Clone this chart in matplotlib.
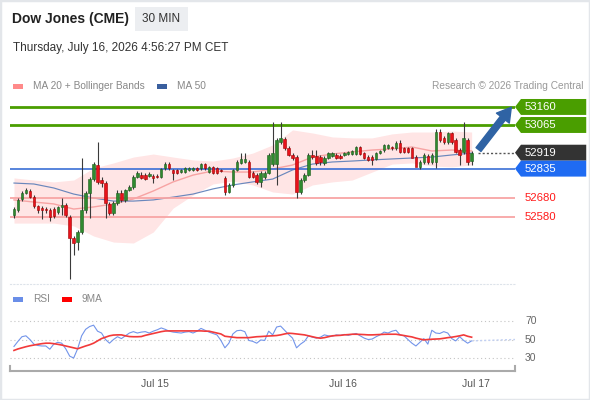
import matplotlib
matplotlib.use('Agg')
import matplotlib.pyplot as plt
from matplotlib.patches import Rectangle, Polygon

plt.rcParams['font.family'] = ['Liberation Sans', 'DejaVu Sans']

# ---- data ----
opens = [52590, 52617, 52675, 52707, 52717, 52685, 52638, 52628, 52622, 52617,
         52622, 52605, 52633, 52643, 52580, 52470, 52448, 52500, 52617, 52707,
         52780, 52855, 52775, 52760, 52650, 52600, 52655, 52707, 52670, 52722,
         52738, 52790, 52802, 52802, 52797, 52797, 52797, 52790, 52838, 52860,
         52828, 52828, 52817, 52817, 52828, 52828, 52838, 52838, 52860, 52817,
         52844, 52838, 52828, 52785, 52712, 52749, 52828, 52865, 52870, 52870,
         52812, 52800, 52765, 52790, 52812, 52860, 52860, 52975, 52990, 52945,
         52907, 52896, 52712, 52775, 52801, 52907, 52902, 52896, 52865, 52891,
         52902, 52907, 52902, 52907, 52912, 52912, 52912, 52949, 52918, 52896,
         52896, 52886, 52918, 52933, 52944, 52950, 52944, 52970, 52944, 52944,
         52944, 52896, 52844, 52870, 52902, 52870, 52870, 53028, 52996, 52975,
         53023, 52986, 52933, 52923, 52986, 52875]
closes = [52622, 52670, 52707, 52722, 52685, 52638, 52617, 52617, 52617, 52580,
          52585, 52633, 52643, 52590, 52470, 52443, 52500, 52617, 52707, 52780,
          52860, 52765, 52760, 52655, 52600, 52655, 52707, 52670, 52722, 52738,
          52790, 52812, 52785, 52780, 52807, 52786, 52790, 52833, 52860, 52838,
          52812, 52812, 52828, 52838, 52838, 52838, 52828, 52860, 52838, 52844,
          52812, 52812, 52822, 52712, 52749, 52828, 52870, 52886, 52886, 52790,
          52790, 52765, 52812, 52812, 52907, 52918, 52986, 52996, 52945, 52907,
          52890, 52712, 52775, 52801, 52907, 52896, 52865, 52870, 52891, 52918,
          52918, 52891, 52891, 52918, 52923, 52928, 52949, 52912, 52891, 52881,
          52881, 52918, 52928, 52960, 52960, 52944, 52970, 52923, 52923, 52923,
          52891, 52844, 52870, 52907, 52870, 52907, 53028, 52986, 52975, 53023,
          52975, 52923, 52907, 52996, 52870, 52919]
highs = [52633, 52680, 52715, 52735, 52730, 52695, 52645, 52640, 52635, 52628,
         52635, 52640, 52680, 52655, 52590, 52480, 52510, 52890, 52715, 52790,
         52870, 52975, 52790, 52770, 52660, 52665, 52720, 52720, 52730, 52750,
         52800, 52820, 52815, 52810, 52815, 52805, 52805, 52840, 52870, 52870,
         52835, 52835, 52835, 52845, 52845, 52845, 52845, 52866, 52866, 52850,
         52850, 52845, 52835, 52795, 52760, 52835, 52880, 52915, 52915, 52880,
         52820, 52810, 52820, 52820, 52915, 53080, 52995, 53080, 53000, 52955,
         52915, 52905, 52785, 52810, 52915, 52935, 52935, 52905, 52900, 52925,
         52925, 52915, 52910, 52925, 52930, 52935, 52955, 52955, 52925, 52905,
         52905, 52925, 52935, 52965, 52965, 52955, 52980, 52985, 52950, 52950,
         52950, 52905, 52880, 52915, 52910, 52915, 53045, 53045, 53005, 53030,
         53030, 52995, 52945, 53080, 52995, 52930]
lows = [52575, 52605, 52665, 52700, 52680, 52625, 52600, 52570, 52600, 52560,
        52575, 52595, 52590, 52580, 52253, 52380, 52405, 52490, 52600, 52575,
        52770, 52755, 52740, 52575, 52590, 52590, 52645, 52660, 52660, 52715,
        52730, 52785, 52780, 52775, 52790, 52760, 52785, 52785, 52830, 52830,
        52775, 52805, 52810, 52810, 52822, 52822, 52820, 52830, 52830, 52810,
        52805, 52805, 52815, 52695, 52705, 52740, 52820, 52860, 52865, 52785,
        52785, 52755, 52740, 52780, 52805, 52850, 52750, 52965, 52935, 52900,
        52880, 52680, 52700, 52765, 52795, 52885, 52855, 52855, 52855, 52885,
        52895, 52885, 52885, 52900, 52905, 52905, 52905, 52905, 52885, 52875,
        52854, 52880, 52910, 52925, 52940, 52935, 52935, 52915, 52915, 52915,
        52915, 52885, 52835, 52860, 52860, 52860, 52840, 52975, 52965, 52965,
        52965, 52915, 52854, 52910, 52854, 52854]

# indicators sampled every 5th bar
ind_idx = list(range(0, 116, 5))
bb_upper = [52786, 52775, 52765, 52775, 52838, 52865, 52896, 52912, 52896, 52881,
            52875, 52891, 52917, 52960, 53039, 53023, 53002, 52997, 52997, 53018,
            53028, 53028, 53033, 53028]
bb_lower = [52548, 52548, 52548, 52533, 52480, 52448, 52443, 52501, 52627, 52696,
            52754, 52770, 52749, 52712, 52701, 52749, 52765, 52775, 52817, 52859,
            52865, 52849, 52844, 52854]
ma20 = [52670, 52659, 52649, 52622, 52633, 52649, 52675, 52717, 52765, 52801,
        52823, 52817, 52817, 52833, 52854, 52896, 52912, 52923, 52933, 52939,
        52949, 52928, 52933, 52928]
ma50 = [52759, 52754, 52733, 52701, 52680, 52664, 52664, 52670, 52685, 52701,
        52728, 52749, 52765, 52780, 52828, 52859, 52870, 52875, 52881, 52886,
        52891, 52896, 52907, 52917]

rsi = [42.5, 48, 53, 54, 50, 45, 43.5, 43, 43, 39.5,
       45, 47, 46, 40, 32, 30, 40, 54, 61, 64,
       65.5, 59, 57, 50, 46, 50, 53, 51, 54, 57,
       58.5, 57, 58, 58.5, 57, 59, 60.5, 62.5, 61, 59,
       58, 57.5, 57, 58, 58.5, 57, 59, 62, 60, 58,
       56.5, 55, 49, 41, 46, 56, 59.5, 60, 58.5, 49,
       48, 46, 49.5, 49, 59, 55, 63.5, 64.5, 60, 55.5,
       51.5, 41, 45, 48, 54, 52.5, 51.5, 52.5, 55, 54,
       53.5, 55, 54.5, 55.5, 54.5, 55.5, 56.5, 54, 51.5, 50,
       50.5, 53, 55, 58, 57, 59, 60, 55, 54, 50,
       46, 43, 47, 51, 45, 60, 57, 56.5, 58.5, 57,
       51, 48.5, 53, 49, 46, 48.5]
rsi_ma9 = [38.2, 39.8, 41, 42.2, 43.2, 44, 44.8, 45.5, 46, 46,
           45.5, 44.8, 44, 43, 42, 41, 40, 41.5, 43, 44.3,
           46, 48.5, 51, 52.5, 54, 54.8, 55, 55, 54, 53.2,
           53, 53, 53.2, 54.5, 55.5, 56.5, 57.5, 58.5, 59.2, 59.3,
           59.3, 59.3, 59.3, 59.3, 59.3, 59.3, 59.3, 59.3, 59, 59,
           58, 57, 56, 53.5, 53, 52.5, 52, 52, 52, 52,
           52.5, 53, 53.2, 53.5, 53.8, 54, 54.3, 55, 56, 56.8,
           56.5, 56, 55.5, 55, 54, 53, 52, 51.4, 52, 53,
           54, 54.3, 54.5, 55, 55.3, 55.7, 55.7, 55.5, 55.3, 55,
           55, 55.2, 55.4, 55.6, 55.7, 55.7, 55.7, 55, 54.3, 53.5,
           52.8, 51.5, 50.5, 49.6, 50, 50.3, 50.5, 50.7, 51.3, 52,
           52.5, 53.2, 54, 55, 53.5, 52.5]

resistances = [53160, 53065]
pivot = 52835
last_price = 52919
supports = [52680, 52580]
date_pos = [35.4, 82.7, 116.1]
date_labels = ['Jul 15', 'Jul 16', 'Jul 17']

# ---- figure ----
W, H = 590, 400
fig = plt.figure(figsize=(5.9, 4.0), dpi=100)


def fx(x):
    return x / W


def fy(y):
    return 1 - y / H


fig.patches.append(Rectangle((0, 0), 1, 1, transform=fig.transFigure, fill=False,
                             edgecolor='#e3e6ea', lw=2.5))

# header
fig.text(fx(12), fy(19), 'Dow Jones (CME)', fontsize=10, weight='bold', color='#222', va='center')
fig.patches.append(Rectangle((fx(135), fy(31)), fx(53), 24 / H, transform=fig.transFigure,
                             facecolor='#eceef1', edgecolor='none'))
fig.text(fx(161.5), fy(19), '30 MIN', fontsize=8.5, color='#333', va='center', ha='center')
fig.text(fx(13), fy(48), 'Thursday, July 16, 2026 4:56:27 PM CET', fontsize=8.5, color='#333', va='center')

# legends
def legend_item(x, y, color, label):
    fig.patches.append(Rectangle((fx(x), fy(y + 2.5)), fx(10), 5 / H, transform=fig.transFigure,
                                 facecolor=color, edgecolor='none'))
    fig.text(fx(x + 20), fy(y), label, fontsize=7.3, color='#888', va='center')


legend_item(13, 86, '#ff8a8a', 'MA 20 + Bollinger Bands')
legend_item(157, 86, '#3a5f9e', 'MA 50')
fig.text(fx(583), fy(86), 'Research \u00a9 2026 Trading Central', fontsize=7.3, color='#999',
         va='center', ha='right')
legend_item(13, 299, '#6a8ee8', 'RSI')
legend_item(62, 299, '#ff0000', '9MA')

# ---- price pane ----
ax = fig.add_axes([fx(10), fy(284), fx(505), (284 - 95) / H])
ax.set_xlim(-1, 125.9)
ax.set_ylim(52227, 53223)
for s in ['top', 'left', 'right']:
    ax.spines[s].set_visible(False)
ax.spines['bottom'].set_color('#dde3ea')
ax.spines['bottom'].set_linestyle((0, (1, 2)))
ax.set_xticks([])
ax.set_yticks([])

ax.fill_between(ind_idx, bb_lower, bb_upper, color='#ffe5e5', lw=0, zorder=1)
ax.plot(ind_idx, ma20, color='#f7a3a3', lw=1, zorder=2)
ax.plot(ind_idx, ma50, color='#5a7db8', lw=0.85, alpha=0.9, zorder=2)

for p in resistances:
    ax.axhline(p, color='#4a9e00', lw=2, zorder=3)
ax.axhline(pivot, color='#3b6fd6', lw=1.2, zorder=3)
for p in supports:
    ax.axhline(p, color='#f8a5a5', lw=1.3, zorder=3)

idx = list(range(len(opens)))
ax.vlines(idx, lows, highs, color='#3a3a3a', lw=0.8, zorder=4)
for i in idx:
    o, c = opens[i], closes[i]
    up = c >= o
    bottom = min(o, c)
    height = max(abs(c - o), 5)
    ax.bar(i, height, bottom=bottom, width=0.62, zorder=5,
           color='#2f8a2f' if up else '#e8121b',
           edgecolor='#1d5e1d' if up else '#a00000', lw=0.4)

# last price dotted line and forecast arrow
ax.plot([116.6, 125.9], [last_price, last_price], color='#555', lw=1,
        ls=(0, (1.5, 1.5)), clip_on=False, zorder=3)
ax.annotate('', xy=(125.4, resistances[0] + 10), xytext=(116.3, last_price + 5),
            arrowprops=dict(arrowstyle='simple,head_width=1.3,head_length=1.1,tail_width=0.5',
                            color='#2f63a4', mutation_scale=9), annotation_clip=False, zorder=6)


def tag(price, color, tcolor='white', box=True):
    if box:
        h = 42
        poly = Polygon([(125.9, price), (127.4, price + h), (143.8, price + h),
                        (143.8, price - h), (127.4, price - h)], closed=True,
                       facecolor=color, edgecolor='none', clip_on=False, zorder=6)
        ax.add_patch(poly)
    ax.text(128.4, price, f'{price}', fontsize=8.2, color=tcolor, va='center', ha='left',
            clip_on=False, zorder=7)


for p in resistances:
    tag(p, '#4a9e00')
tag(last_price, '#333333')
tag(pivot, '#1f6bf2')
for p in supports:
    tag(p, None, tcolor='#ff1a1a', box=False)

# ---- RSI pane ----
rax = fig.add_axes([fx(10), fy(371), fx(505), (371 - 305) / H])
rax.set_xlim(-1, 125.9)
rax.set_ylim(15.95, 87.3)
for s in ['top', 'left', 'right']:
    rax.spines[s].set_visible(False)
rax.spines['bottom'].set_color('#aaaaaa')
rax.spines['bottom'].set_linewidth(1.5)
rax.set_yticks([])
for v in [70, 50, 30]:
    rax.axhline(v, color='#c4c4c4', ls=(0, (1, 2.5)), lw=0.8)
    rax.text(128.4, v, str(v), fontsize=7.5, color='#666', va='center', ha='left', clip_on=False)
rax.plot(idx, rsi, color='#7294ea', lw=0.8)
rax.plot(idx, rsi_ma9, color='#f23a3a', lw=1.2)
rax.plot([115, 125.9], [rsi[-1], 50], color='#c2d0f2', lw=1, ls=(0, (1.5, 1.5)))
for xa in [0, 1]:
    rax.plot([xa, xa], [0, 0.08], transform=rax.transAxes, color='#aaaaaa', lw=1.5, clip_on=False)
rax.set_xticks(date_pos)
rax.set_xticklabels(date_labels, fontsize=7.5, color='#555')
rax.tick_params(axis='x', length=0, pad=6)

fig.savefig('out.png', dpi=100)
